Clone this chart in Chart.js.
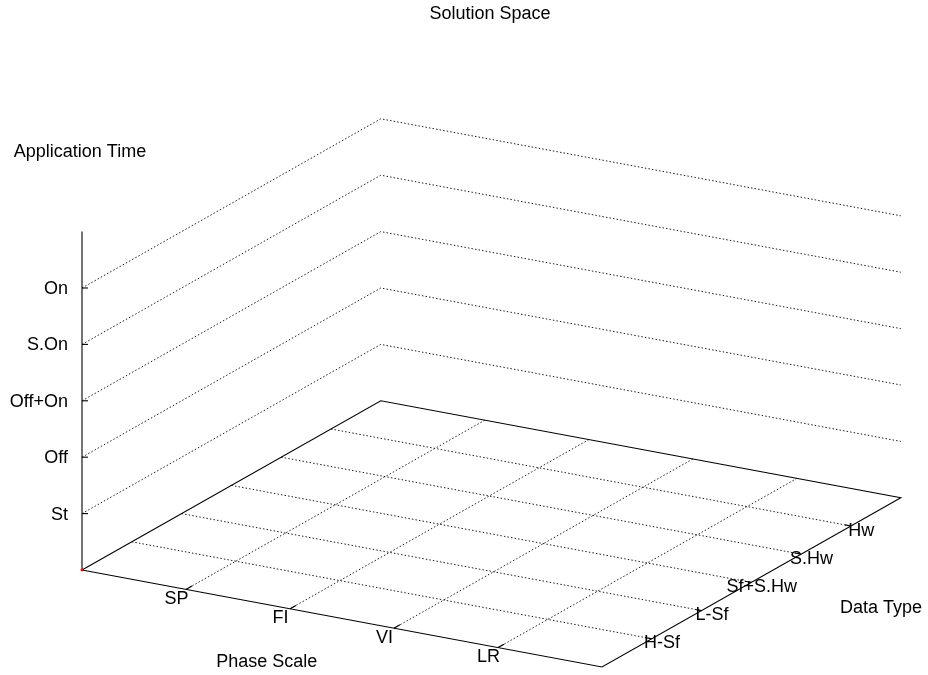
<!DOCTYPE html>
<html>
<head>
<meta charset="utf-8">
<title>Solution Space</title>
<script src="https://cdn.jsdelivr.net/npm/chart.js@4.4.1/dist/chart.umd.min.js"></script>
<style>
  html, body { margin: 0; padding: 0; background: #ffffff; }
  #wrap { width: 928px; height: 675px; position: relative; }
</style>
</head>
<body>
<div id="wrap"><canvas id="chart" width="928" height="675"></canvas></div>
<script>
// Category tick labels; each sits at integer position 1..n on its axis
const phaseLabels = ['SP', 'FI', 'VI', 'LR'];
const dataTypeLabels = ['H-Sf', 'L-Sf', 'Sf+S.Hw', 'S.Hw', 'Hw'];
const timeLabels = ['St', 'Off', 'Off+On', 'S.On', 'On'];

// Axis ranges
const phaseRange = [0, 5];
const dataTypeRange = [0, 6];
const timeRange = [0, 6];

// Plotted samples (phase, data type, application time)
const samplePhase = [0];
const sampleDataType = [0];
const sampleTime = [0];

// Oblique 3-D view: screen position of the origin and of one unit step along each axis
const view = {
  origin: [82, 570],
  ex: [104, 19.4],
  ey: [49.8, -28.2],
  ez: [0, -56.4]
};

function project(p, d, t) {
  return {
    x: view.origin[0] + p * view.ex[0] + d * view.ey[0] + t * view.ez[0],
    y: view.origin[1] + p * view.ex[1] + d * view.ey[1] + t * view.ez[1]
  };
}

const FONT = '18px "Liberation Sans", Arial, Helvetica, sans-serif';
const solid = { borderColor: '#000000', borderWidth: 1.1, borderDash: [], order: 1 };
const dotted = { borderColor: '#1e1e1e', borderWidth: 1, borderDash: [1.5, 2.1], order: 3 };

function polyline(points, style) {
  return {
    type: 'line',
    data: points,
    borderColor: style.borderColor,
    borderWidth: style.borderWidth,
    borderDash: style.borderDash,
    pointRadius: 0,
    pointHoverRadius: 0,
    fill: false,
    tension: 0,
    clip: false,
    order: style.order
  };
}

const [p0, p1] = phaseRange;
const [d0, d1] = dataTypeRange;
const [t0, t1] = timeRange;

const datasets = [];

// Grid on the floor: phase lines run toward the back, data-type lines run across
phaseLabels.forEach((_, i) => {
  const k = i + 1;
  datasets.push(polyline([project(k, d0, t0), project(k, d1, t0)], dotted));
});
dataTypeLabels.forEach((_, i) => {
  const k = i + 1;
  datasets.push(polyline([project(p0, k, t0), project(p1, k, t0)], dotted));
});
// Grid on the two back walls for each application-time level
timeLabels.forEach((_, i) => {
  const k = i + 1;
  datasets.push(polyline([project(p0, d0, k), project(p0, d1, k), project(p1, d1, k)], dotted));
});

// Floor frame and vertical axis
datasets.push(polyline([
  project(p0, d0, t0), project(p1, d0, t0), project(p1, d1, t0),
  project(p0, d1, t0), project(p0, d0, t0)
], solid));
datasets.push(polyline([project(p0, d0, t0), project(p0, d0, t1)], solid));

// Tick marks
timeLabels.forEach((_, i) => {
  const a = project(p0, d0, i + 1);
  datasets.push(polyline([a, { x: a.x + 6, y: a.y }], solid));
});
phaseLabels.forEach((_, i) => {
  datasets.push(polyline([project(i + 1, d0, t0), project(i + 1, d0 + 0.12, t0)], solid));
});
dataTypeLabels.forEach((_, i) => {
  datasets.push(polyline([project(p1, i + 1, t0), project(p1 - 0.06, i + 1, t0)], solid));
});

// Samples
datasets.push({
  type: 'scatter',
  data: samplePhase.map((p, i) => project(p, sampleDataType[i], sampleTime[i])),
  pointRadius: 1.4,
  pointBorderWidth: 0,
  pointBackgroundColor: '#ff0000',
  pointBorderColor: '#ff0000',
  clip: false,
  order: 0
});

// Titles and tick labels
const labelPlugin = {
  id: 'axisText',
  afterDatasetsDraw(chart) {
    const ctx = chart.ctx;
    const sx = chart.scales.x, sy = chart.scales.y;
    const px = v => sx.getPixelForValue(v);
    const py = v => sy.getPixelForValue(v);
    ctx.save();
    ctx.font = FONT;
    ctx.fillStyle = '#000000';
    ctx.textBaseline = 'alphabetic';

    // Application time labels, right-aligned left of the vertical axis
    ctx.textAlign = 'right';
    timeLabels.forEach((lab, i) => {
      const a = project(p0, d0, i + 1);
      ctx.fillText(lab, px(a.x) - 14, py(a.y) + 6);
    });

    // Phase labels below the front edge
    ctx.textAlign = 'center';
    phaseLabels.forEach((lab, i) => {
      const a = project(i + 1, d0, t0);
      ctx.fillText(lab, px(a.x) - 9.5, py(a.y) + 14.5);
    });

    // Data type labels along the right edge
    dataTypeLabels.forEach((lab, i) => {
      const a = project(p1, i + 1, t0);
      ctx.fillText(lab, px(a.x) + 10.3, py(a.y) + 9.6);
    });

    // Titles
    ctx.fillText('Solution Space', 490, 19.3);
    ctx.fillText('Application Time', 80, 157);
    ctx.fillText('Phase Scale', 266.7, 666.7);
    ctx.fillText('Data Type', 881, 612.7);
    ctx.restore();
  }
};

new Chart(document.getElementById('chart'), {
  type: 'scatter',
  data: { datasets },
  options: {
    responsive: false,
    animation: false,
    events: [],
    layout: { padding: 0, autoPadding: false },
    plugins: {
      legend: { display: false },
      tooltip: { enabled: false },
      title: { display: false }
    },
    scales: {
      x: { type: 'linear', display: false, min: 0, max: 928 },
      y: { type: 'linear', display: false, min: 0, max: 675, reverse: true }
    }
  },
  plugins: [labelPlugin]
});
</script>
</body>
</html>
